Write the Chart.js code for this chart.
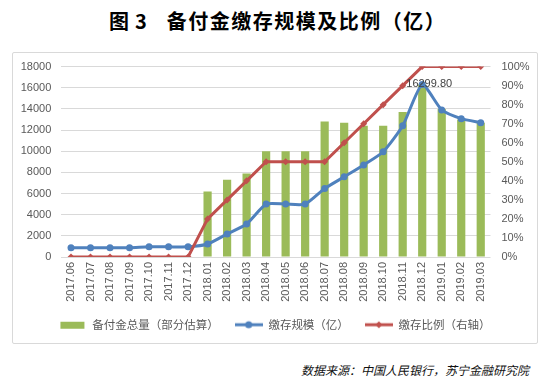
<!DOCTYPE html>
<html>
<head>
<meta charset="utf-8">
<script src="https://cdn.jsdelivr.net/npm/chart.js@4/dist/chart.umd.min.js"></script>
<style>
  body { margin: 0; background: #fff; width: 550px; height: 386px; position: relative; overflow: hidden; }
  #title { position: absolute; left: 109px; top: 9px; font: 700 20px "Noto Sans CJK SC"; color: #000; white-space: nowrap; line-height: 24px; }
  #title .num { margin-left: 6px; }
  #title .main { margin-left: 20px; letter-spacing: 1.5px; }
  #frame { position: absolute; left: 12px; top: 52px; width: 524px; height: 290px; border: 1px solid #d9d9d9; border-radius: 2px; }
  #wrap { position: absolute; left: 12px; top: 49px; width: 525px; height: 295px; }
  #source { position: absolute; right: 21px; top: 361px; font: italic 12px "Noto Sans CJK SC"; color: #111; line-height: 18px; white-space: nowrap; }
</style>
</head>
<body>
<div id="title">图<span class="num">3</span><span class="main">备付金缴存规模及比例（亿）</span></div>
<div id="frame"></div>
<div id="wrap"><canvas id="c"></canvas></div>
<div id="source">数据来源：中国人民银行，苏宁金融研究院</div>
<script>
// months on the x axis
const months = ['2017.06', '2017.07', '2017.08', '2017.09', '2017.10', '2017.11', '2017.12',
  '2018.01', '2018.02', '2018.03', '2018.04', '2018.05', '2018.06', '2018.07', '2018.08',
  '2018.09', '2018.10', '2018.11', '2018.12', '2019.01', '2019.02', '2019.03'];
// 备付金总量（部分估算）, 亿
const reserveTotal = [null, null, null, null, null, null, null,
  6200, 7300, 7900, 10000, 10000, 10000, 12800, 12700,
  12400, 12400, 13700, 16300, 14000, 13000, 12700];
// 缴存规模（亿）
const depositScale = [870, 870, 870, 870, 960, 960, 960,
  1230, 2180, 3120, 5000, 5000, 5000, 6470, 7580,
  8700, 9950, 12400, 16299.80, 13900, 13080, 12700];
// 缴存比例（右轴）
const depositRatio = [0, 0, 0, 0, 0, 0, 0,
  0.20, 0.30, 0.40, 0.50, 0.50, 0.50, 0.50, 0.60,
  0.70, 0.80, 0.90, 1.00, 1.00, 1.00, 1.00];

const leftTicks = { min: 0, max: 18000, step: 2000 };
const rightTicks = { min: 0, max: 1, step: 0.1 };

const GREEN = '#9bbb59', BLUE = '#4f81bd', RED = '#c0504d';
const tickFont = { family: 'Liberation Sans, Noto Sans CJK SC', size: 11 };

// little pictures for the legend: bar box, line with marker
function legendIcon(color, kind) {
  const c = document.createElement('canvas');
  c.width = 28; c.height = 10;
  const g = c.getContext('2d');
  g.fillStyle = color;
  if (kind === 'bar') {
    g.fillRect(2, 2, 24, 7);
    return c;
  }
  g.strokeStyle = color;
  g.lineWidth = 3;
  g.beginPath(); g.moveTo(0, 5); g.lineTo(28, 5); g.stroke();
  g.beginPath();
  if (kind === 'circle') {
    g.arc(14, 5, 3.5, 0, Math.PI * 2);
  } else {
    g.moveTo(14, 1.5); g.lineTo(17.5, 5); g.lineTo(14, 8.5); g.lineTo(10.5, 5); g.closePath();
  }
  g.fill();
  return c;
}

// value label on the peak of 缴存规模
const peakIndex = depositScale.indexOf(Math.max(...depositScale));
const peakLabel = {
  id: 'peakLabel',
  afterDatasetsDraw(chart) {
    const pt = chart.getDatasetMeta(1).data[peakIndex];
    const ctx = chart.ctx;
    ctx.save();
    ctx.font = '11px Liberation Sans';
    ctx.fillStyle = '#404040';
    ctx.textAlign = 'center';
    ctx.textBaseline = 'middle';
    ctx.fillText(depositScale[peakIndex].toFixed(2), pt.x + 7, pt.y - 1);
    ctx.restore();
  }
};

new Chart(document.getElementById('c'), {
  data: {
    labels: months,
    datasets: [
      {
        type: 'bar', label: '备付金总量（部分估算）', data: reserveTotal,
        backgroundColor: GREEN, yAxisID: 'y', order: 3,
        categoryPercentage: 1, barPercentage: 0.42
      },
      {
        type: 'line', label: '缴存规模（亿）', data: depositScale,
        borderColor: BLUE, backgroundColor: BLUE, borderWidth: 3, tension: 0.2,
        pointStyle: 'circle', pointRadius: 3.5, pointBorderWidth: 0,
        yAxisID: 'y', order: 2
      },
      {
        type: 'line', label: '缴存比例（右轴）', data: depositRatio,
        borderColor: RED, backgroundColor: RED, borderWidth: 3, tension: 0,
        pointStyle: 'rectRot', pointRadius: 3.5, pointBorderWidth: 0,
        yAxisID: 'y1', order: 1
      }
    ]
  },
  options: {
    responsive: true,
    maintainAspectRatio: false,
    animation: false,
    layout: { padding: { top: 0, left: 0, right: 0, bottom: 3.5 } },
    scales: {
      x: {
        grid: { display: false, drawTicks: false },
        border: { display: false },
        ticks: { color: '#595959', font: tickFont, minRotation: 90, maxRotation: 90, padding: 5, autoSkip: false },
        afterFit: s => { s.height = 46; }
      },
      y: {
        position: 'left',
        min: leftTicks.min, max: leftTicks.max,
        grid: { color: '#d9d9d9', drawTicks: false },
        border: { display: false },
        ticks: { stepSize: leftTicks.step, color: '#595959', font: tickFont, padding: 10, callback: v => String(v) },
        afterFit: s => { s.width = 49.25; }
      },
      y1: {
        position: 'right',
        min: rightTicks.min, max: rightTicks.max,
        grid: { display: false, drawTicks: false },
        border: { display: false },
        ticks: {
          stepSize: rightTicks.step, color: '#595959', font: tickFont, padding: 11,
          callback: v => Math.round(v * 100) + '%'
        },
        afterFit: s => { s.width = 46.5; }
      }
    },
    plugins: {
      tooltip: { enabled: false },
      legend: {
        position: 'bottom',
        labels: {
          usePointStyle: true,
          pointStyleWidth: 28,
          padding: 16,
          color: '#595959',
          font: { family: 'Noto Sans CJK SC', size: 11.5 },
          generateLabels: chart => chart.data.datasets.map((ds, i) => ({
            text: ds.label,
            pointStyle: legendIcon(ds.type === 'bar' ? GREEN : ds.borderColor,
              ds.type === 'bar' ? 'bar' : (ds.pointStyle === 'circle' ? 'circle' : 'diamond')),
            fillStyle: ds.backgroundColor,
            strokeStyle: ds.backgroundColor,
            lineWidth: 0,
            hidden: false,
            fontColor: '#595959',
            datasetIndex: i
          }))
        }
      }
    }
  },
  plugins: [peakLabel]
});
</script>
</body>
</html>
